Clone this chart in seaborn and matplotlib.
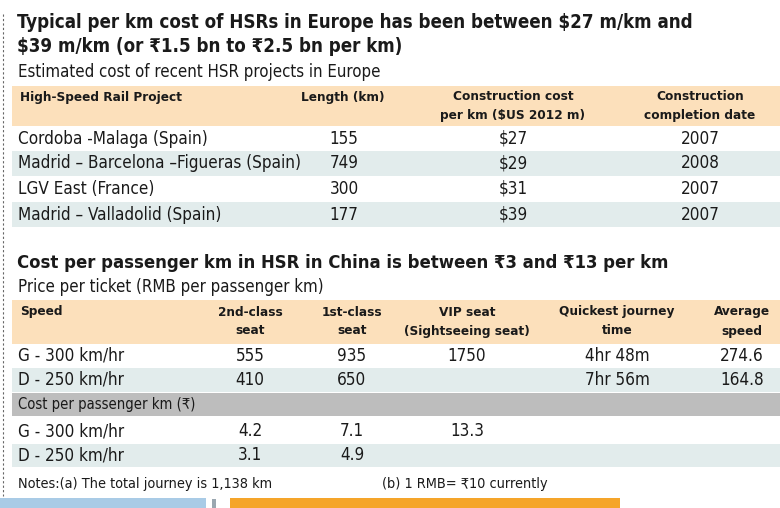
import pandas as pd
import seaborn as sns
import matplotlib.pyplot as plt
from matplotlib import font_manager
from matplotlib.patches import Rectangle

# ---- data ----
eu_projects = ["Cordoba -Malaga (Spain)", "Madrid – Barcelona –Figueras (Spain)",
               "LGV East (France)", "Madrid – Valladolid (Spain)"]
eu_length = [155, 749, 300, 177]
eu_cost = [27, 29, 31, 39]
eu_year = [2007, 2008, 2007, 2007]

cn_speed = ["G - 300 km/hr", "D - 250 km/hr"]
cn_second = [555, 410]
cn_first = [935, 650]
cn_vip = [1750, None]
cn_time = ["4hr 48m", "7hr 56m"]
cn_avg = [274.6, 164.8]

cost_second = [4.2, 3.1]
cost_first = [7.1, 4.9]
cost_vip = [13.3, None]

title1a = "Typical per km cost of HSRs in Europe has been between $27 m/km and"
title1b = "$39 m/km (or ₹1.5 bn to ₹2.5 bn per km)"
sub1 = "Estimated cost of recent HSR projects in Europe"
title2 = "Cost per passenger km in HSR in China is between ₹3 and ₹13 per km"
sub2 = "Price per ticket (RMB per passenger km)"
cost_label = "Cost per passenger km (₹)"
note_a = "Notes:(a) The total journey is 1,138 km"
note_b = "(b) 1 RMB= ₹10 currently"

sns.set_theme(style="white")

# pick a narrow face if one is installed
fonts = font_manager.fontManager.ttflist
narrow = [f for f in fonts if ("Narrow" in f.name or "Condensed" in f.name
                               or f.stretch in ("condensed", "semi-condensed"))
          and "CJK" not in f.name]
stretch = "normal"
if narrow:
    base = narrow[0].name
    stretch = narrow[0].stretch
else:
    base = "Liberation Sans"
plt.rcParams['font.family'] = [base, "DejaVu Sans"]
plt.rcParams['font.stretch'] = stretch

eu = pd.DataFrame({"project": eu_projects, "length": eu_length,
                   "cost": eu_cost, "year": eu_year})
cn = pd.DataFrame({"speed": cn_speed, "second": cn_second, "first": cn_first,
                   "vip": cn_vip, "time": cn_time, "avg": cn_avg})
cpk = pd.DataFrame({"speed": cn_speed, "second": cost_second,
                    "first": cost_first, "vip": cost_vip})

PEACH = "#fce0bb"
BAND = "#e2ecec"
GREY = "#bdbdbd"
TXT = "#1a1a1a"

fig = plt.figure(figsize=(7.8, 5.08), dpi=100)
ax = fig.add_axes([0, 0, 1, 1])
ax.set_xlim(0, 780)
ax.set_ylim(508, 0)
ax.axis("off")
renderer = fig.canvas.get_renderer()


def fit_size(s, width, bold=False, start=12):
    # font size that makes string s about `width` pixels wide
    t = ax.text(0, 0, s, fontsize=start, fontweight="bold" if bold else "normal")
    w = t.get_window_extent(renderer).width
    t.remove()
    return start * width / w


def band(y0, y1, color, x0=12):
    ax.add_patch(Rectangle((x0, y0), 780 - x0, y1 - y0, color=color, lw=0, zorder=0))


def txt(x, y, s, size, ha="left", bold=False):
    ax.text(x, y, s, fontsize=size, ha=ha, va="center", color=TXT,
            fontweight="bold" if bold else "normal")


T1 = min(fit_size(title1a, 673, bold=True), 16)
T2 = min(fit_size(title2, 652, bold=True), 16)
S1 = min(fit_size(sub1, 362), 12.5)
BODY = min(fit_size(eu_projects[1], 282), 13)
HEAD = min(fit_size("Construction cost", 120, bold=True), 10.5)
COST = min(fit_size(cost_label, 177), 12)
NOTE = min(fit_size(note_a, 254), 11)

# left dashed rule
ax.plot([3, 3], [14, 496], color="#666666", lw=0.8, ls=(0, (2, 2)))

# ---- Europe section ----
ax.text(17, 22, title1a, fontsize=T1, fontweight="bold", color=TXT, va="center")
ax.text(17, 46, title1b, fontsize=T1, fontweight="bold", color=TXT, va="center")
txt(18, 72, sub1, S1)

band(86, 126, PEACH)
txt(20, 97, "High-Speed Rail Project", HEAD, bold=True)
txt(343, 97, "Length (km)", HEAD, ha="center", bold=True)
txt(513, 97, "Construction cost", HEAD, ha="center", bold=True)
txt(513, 116, "per km ($US 2012 m)", HEAD, ha="center", bold=True)
txt(700, 97, "Construction", HEAD, ha="center", bold=True)
txt(700, 116, "completion date", HEAD, ha="center", bold=True)

eu_rows = [(126, 151), (151, 176), (176, 202), (202, 227)]
for i, r in eu.iterrows():
    y0, y1 = eu_rows[i]
    if i % 2 == 1:
        band(y0, y1, BAND)
    yc = (y0 + y1) / 2
    txt(18, yc, r["project"], BODY)
    txt(344, yc, f"{r['length']}", BODY, ha="center")
    txt(513, yc, f"${r['cost']}", BODY, ha="center")
    txt(700, yc, f"{r['year']}", BODY, ha="center")

# ---- China section ----
ax.text(17, 263, title2, fontsize=T2, fontweight="bold", color=TXT, va="center")
txt(18, 287, sub2, S1)

band(300, 344, PEACH)
heads = [(20, "Speed", "", "left"), (250, "2nd-class", "seat", "center"),
         (352, "1st-class", "seat", "center"),
         (467, "VIP seat", "(Sightseeing seat)", "center"),
         (617, "Quickest journey", "time", "center"),
         (742, "Average", "speed", "center")]
for x, a, b, ha in heads:
    txt(x, 312, a, HEAD, ha=ha, bold=True)
    if b:
        txt(x, 331, b, HEAD, ha=ha, bold=True)

cn_rows = [(344, 368), (368, 392)]
for i, r in cn.iterrows():
    y0, y1 = cn_rows[i]
    if i % 2 == 1:
        band(y0, y1, BAND)
    yc = (y0 + y1) / 2
    txt(18, yc, r["speed"], BODY)
    txt(250, yc, f"{r['second']}", BODY, ha="center")
    txt(352, yc, f"{r['first']}", BODY, ha="center")
    if pd.notna(r["vip"]):
        txt(467, yc, f"{int(r['vip'])}", BODY, ha="center")
    txt(617, yc, r["time"], BODY, ha="center")
    txt(742, yc, f"{r['avg']:.1f}", BODY, ha="center")

band(393, 416, GREY)
txt(18, 405, cost_label, COST)

cpk_rows = [(418, 444), (444, 467)]
for i, r in cpk.iterrows():
    y0, y1 = cpk_rows[i]
    if i % 2 == 1:
        band(y0, y1, BAND)
    yc = (y0 + y1) / 2
    txt(18, yc, r["speed"], BODY)
    txt(250, yc, f"{r['second']:.1f}", BODY, ha="center")
    txt(352, yc, f"{r['first']:.1f}", BODY, ha="center")
    if pd.notna(r["vip"]):
        txt(467, yc, f"{r['vip']:.1f}", BODY, ha="center")

txt(18, 484, note_a, NOTE)
txt(382, 484, note_b, NOTE)

# bottom strips
ax.add_patch(Rectangle((0, 498), 206, 10, color="#a9cbe6", lw=0))
ax.add_patch(Rectangle((212, 499), 4, 9, color="#9aa7b0", lw=0))
ax.add_patch(Rectangle((230, 498), 390, 10, color="#f5a52a", lw=0))

fig.savefig("out.png", dpi=100)
